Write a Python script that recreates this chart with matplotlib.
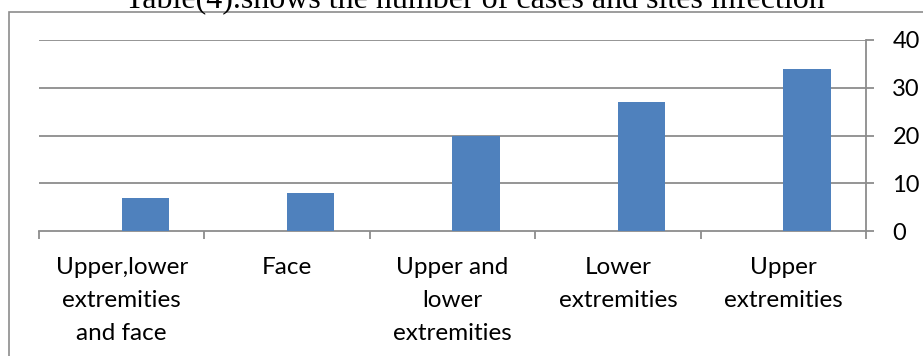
import matplotlib
matplotlib.use('Agg')
import matplotlib.pyplot as plt
import numpy as np
from matplotlib.patches import Rectangle

# chart data
sites = ['Upper,lower\nextremities\nand face', 'Face', 'Upper and\nlower\nextremities',
         'Lower\nextremities', 'Upper\nextremities']
cases = [7, 8, 20, 27, 34]
yticks = [0, 10, 20, 30, 40]
title = 'Table(4).shows the number of cases and sites infection'

W, H = 923, 356
fig = plt.figure(figsize=(W / 100, H / 100), dpi=100)

# outer chart border (runs off right and bottom edge)
fig.patches.append(Rectangle((9 / W, -0.1), 1.2, 1 - 12 / H + 0.1,
                             transform=fig.transFigure, fill=False,
                             edgecolor='#8c8c8c', linewidth=1.2))

ax = fig.add_axes([39 / W, (H - 231) / H, (866 - 39) / W, (231 - 40) / H])

x = np.arange(len(sites))
bw = 1 / 3.5  # two series, gap width 150%
ax.bar(x, cases, width=bw, align='edge', color='#4f81bd', zorder=3)

ax.set_xlim(-0.5, len(sites) - 0.5)
ax.set_ylim(0, 40)

grid_c = '#8c8c8c'
for v in yticks[1:]:
    ax.axhline(v, color=grid_c, linewidth=1.3, zorder=1)

for s in ['top', 'left']:
    ax.spines[s].set_visible(False)
ax.spines['bottom'].set_color(grid_c)
ax.spines['bottom'].set_linewidth(1.3)
ax.spines['right'].set_color(grid_c)
ax.spines['right'].set_linewidth(1.3)

ax.yaxis.tick_right()
ax.set_yticks(yticks)
ax.tick_params(axis='y', length=6, width=1.3, color=grid_c, pad=13,
               labelsize=17, labelcolor='black')
for lab in ax.get_yticklabels():
    lab.set_family('Lato')

# category boundary ticks on x axis
ax.set_xticks(np.arange(len(sites) + 1) - 0.5)
ax.set_xticklabels([])
ax.tick_params(axis='x', length=6, width=1.3, color=grid_c, direction='out')

for xi, name in zip(x, sites):
    ax.text(xi, -5.4, name, ha='center', va='top', fontsize=17.5, family='Lato',
            linespacing=1.72, clip_on=False)

fig.text(475 / W, 1 - 8.5 / H, title, ha='center', va='baseline', fontsize=23,
         family='Liberation Serif')

fig.savefig('out.png', dpi=100)
